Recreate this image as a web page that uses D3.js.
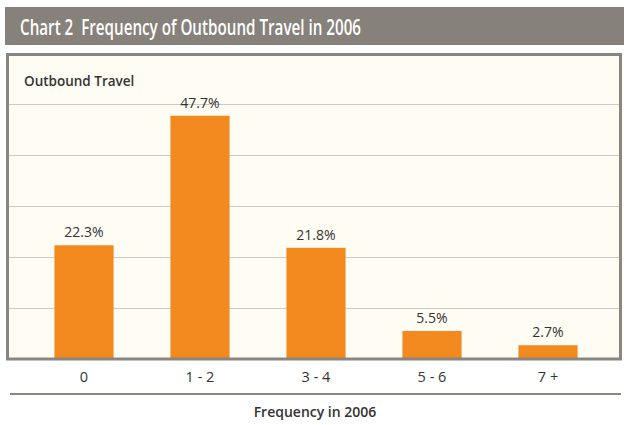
<!DOCTYPE html>
<html>
<head>
<meta charset="utf-8">
<script src="https://cdn.jsdelivr.net/npm/d3@7"></script>
<style>
  html, body { margin: 0; padding: 0; background: #ffffff; }
  svg { display: block; }
</style>
</head>
<body>
<svg id="chart" width="624" height="425"></svg>
<script>
// Share of respondents by number of outbound trips in 2006
const categories = ["0", "1 - 2", "3 - 4", "5 - 6", "7 +"];
const shares = [22.3, 47.7, 21.8, 5.5, 2.7];
const gridTicks = [10, 20, 30, 40, 50];

const titleText = "Chart 2  Frequency of Outbound Travel in 2006";
const seriesLabel = "Outbound Travel";
const axisTitle = "Frequency in 2006";

const svg = d3.select("#chart");
const font = "'Open Sans', 'Noto Sans', sans-serif";

const frame = { left: 7.5, top: 54.5, right: 620.5, bottom: 359 };

const x = d3.scaleBand()
  .domain(categories)
  .range([26, 606])
  .paddingInner(0.49)
  .paddingOuter(0.245);

const y = d3.scaleLinear()
  .domain([0, 60])
  .range([359, 53]);

// Title band
svg.append("rect")
  .attr("x", 5).attr("y", 7)
  .attr("width", 619).attr("height", 38)
  .attr("fill", "#86817a");

svg.append("text")
  .attr("x", 20).attr("y", 34.5)
  .attr("font-family", font)
  .attr("font-size", 22)
  .attr("font-weight", 600)
  .attr("fill", "#ffffff")
  .attr("textLength", 341)
  .attr("lengthAdjust", "spacingAndGlyphs")
  .style("white-space", "pre")
  .text(titleText);

// Plot panel
svg.append("rect")
  .attr("x", frame.left).attr("y", frame.top)
  .attr("width", frame.right - frame.left)
  .attr("height", frame.bottom - frame.top)
  .attr("fill", "#fffcf3");

// Horizontal gridlines
const yAxis = d3.axisLeft(y)
  .tickValues(gridTicks)
  .tickSize(-(frame.right - frame.left))
  .tickFormat("");

svg.append("g")
  .attr("transform", `translate(${frame.left},0)`)
  .call(yAxis)
  .call(g => g.select(".domain").remove())
  .call(g => g.selectAll(".tick line")
    .attr("stroke", "#cdcac4")
    .attr("stroke-width", 1.2));

// Bars
svg.append("g")
  .selectAll("rect")
  .data(shares)
  .join("rect")
  .attr("x", (d, i) => x(categories[i]))
  .attr("y", d => y(d))
  .attr("width", x.bandwidth())
  .attr("height", d => y(0) - y(d))
  .attr("fill", "#f38a20");

// Value labels
svg.append("g")
  .selectAll("text")
  .data(shares)
  .join("text")
  .attr("x", (d, i) => x(categories[i]) + x.bandwidth() / 2)
  .attr("y", d => y(d) - 8)
  .attr("text-anchor", "middle")
  .attr("font-family", font)
  .attr("font-size", 14)
  .attr("fill", "#333333")
  .text(d => d.toFixed(1) + "%");

// Panel border
svg.append("rect")
  .attr("x", frame.left).attr("y", frame.top)
  .attr("width", frame.right - frame.left)
  .attr("height", frame.bottom - frame.top)
  .attr("fill", "none")
  .attr("stroke", "#8a857e")
  .attr("stroke-width", 3);

// Series label inside the panel
svg.append("text")
  .attr("x", 24).attr("y", 86)
  .attr("font-family", font)
  .attr("font-size", 13.5)
  .attr("font-weight", 600)
  .attr("fill", "#333333")
  .text(seriesLabel);

// Category axis
const xAxis = d3.axisBottom(x).tickSize(0).tickPadding(0);
svg.append("g")
  .attr("transform", "translate(0,382)")
  .call(xAxis)
  .call(g => g.select(".domain").remove())
  .call(g => g.selectAll(".tick text")
    .attr("dy", 0)
    .attr("font-family", font)
    .attr("font-size", 14.5)
    .attr("fill", "#333333"));

// Rule under category labels
svg.append("line")
  .attr("x1", 10).attr("x2", 621)
  .attr("y1", 394).attr("y2", 394)
  .attr("stroke", "#8a857e")
  .attr("stroke-width", 2);

// Axis title
svg.append("text")
  .attr("x", 315).attr("y", 417)
  .attr("text-anchor", "middle")
  .attr("font-family", font)
  .attr("font-size", 14)
  .attr("font-weight", 600)
  .attr("fill", "#333333")
  .text(axisTitle);
</script>
</body>
</html>
